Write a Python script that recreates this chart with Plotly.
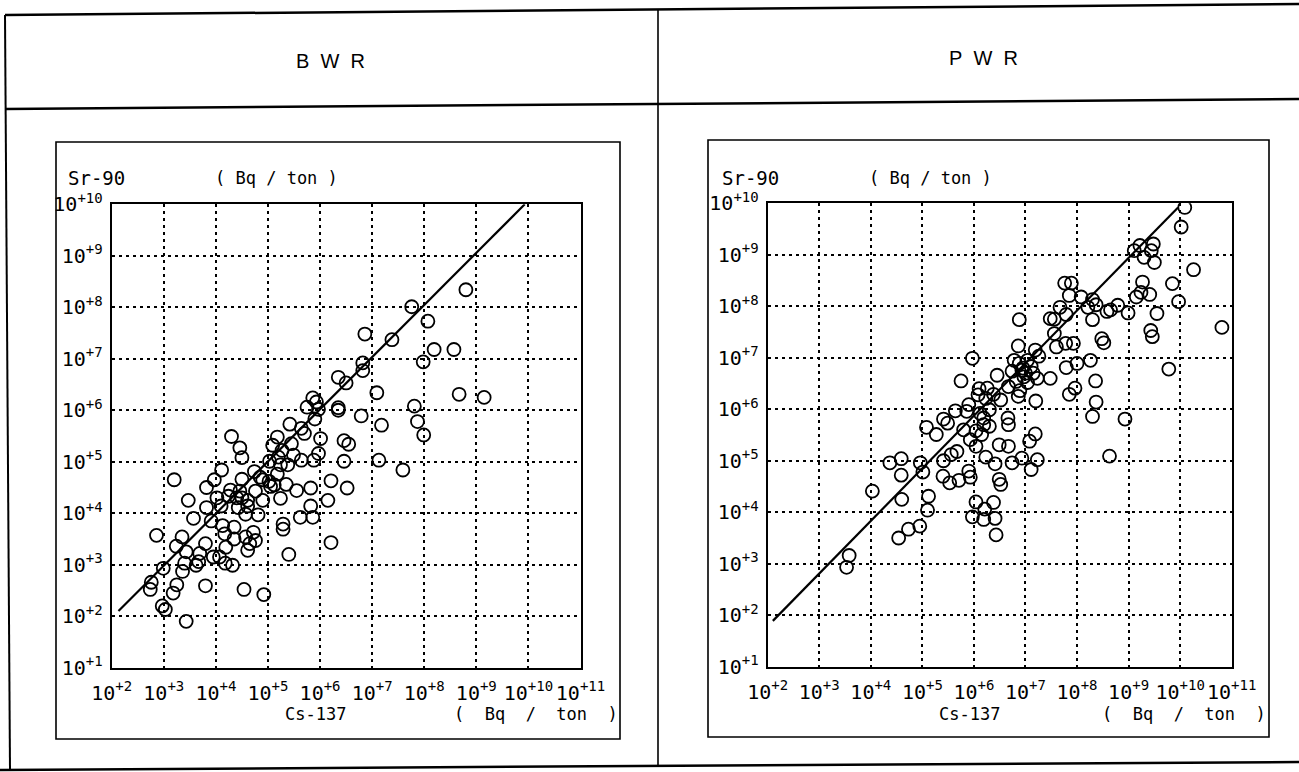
import numpy as np
import plotly.graph_objects as go

W, H = 1299, 772

# ---------------- data (log10 of Bq/ton) ----------------
panel_titles = ["B W R", "P W R"]
x_tick_exponents = list(range(2, 12))
y_tick_exponents = list(range(1, 11))

bwr_cs137_log = [8.80, 7.76, 8.07, 6.86, 7.38, 8.19, 8.57, 7.98, 6.82, 6.82, 6.35, 6.50, 7.09, 8.67,
                 9.15, 7.81, 6.35, 6.35, 5.93, 5.75, 5.97, 6.79, 5.90, 7.87, 7.18, 5.42, 5.64, 7.99,
                 4.30, 6.01, 5.18, 6.46, 6.55, 4.46, 4.50, 5.09, 5.27, 5.49, 5.64, 5.97, 5.88, 6.46,
                 7.13, 7.59, 5.24, 5.03, 4.11, 3.20, 3.97, 3.82, 4.50, 4.74, 5.02, 5.35, 5.55, 5.82,
                 6.21, 6.52, 5.18, 5.05, 3.47, 4.02, 4.24, 4.50, 4.61, 4.90, 5.24, 6.15, 3.82, 4.10,
                 4.61, 5.82, 3.57, 4.81, 4.57, 5.62, 5.86, 5.29, 5.29, 3.91, 4.13, 4.35, 2.86, 3.35,
                 3.24, 4.17, 4.35, 4.57, 4.72, 4.76, 4.65, 3.80, 4.19, 4.61, 6.21, 3.43, 3.69, 3.95,
                 4.18, 5.40, 3.40, 3.62, 2.99, 3.36, 2.76, 2.74, 3.25, 3.80, 3.18, 4.54, 4.92, 2.97,
                 3.03, 3.43, 3.67, 4.32, 4.07, 5.20, 5.86, 5.38, 4.90, 4.46, 4.43, 4.76, 5.12, 4.40,
                 4.28, 5.45, 5.70, 4.85]
bwr_sr90_log = [8.34, 8.01, 7.73, 7.48, 7.37, 7.18, 7.18, 6.94, 6.92, 6.77, 6.64, 6.53, 6.34, 6.31,
                6.25, 6.08, 6.05, 6.00, 6.16, 6.06, 6.02, 5.89, 5.83, 5.78, 5.71, 5.73, 5.65, 5.52,
                5.49, 5.45, 5.48, 5.41, 5.34, 5.27, 5.08, 5.32, 5.22, 5.13, 5.03, 5.16, 5.03, 5.01,
                5.03, 4.84, 4.94, 5.01, 4.84, 4.65, 4.65, 4.50, 4.66, 4.81, 4.62, 4.56, 4.44, 4.49,
                4.63, 4.49, 4.76, 4.52, 4.25, 4.30, 4.33, 4.30, 4.25, 4.25, 4.29, 4.25, 4.11, 4.14,
                4.14, 4.14, 3.90, 3.97, 3.98, 3.92, 3.92, 3.79, 3.69, 3.85, 3.76, 3.73, 3.57, 3.54,
                3.36, 3.60, 3.50, 3.54, 3.63, 3.47, 3.41, 3.41, 3.34, 3.28, 3.43, 3.25, 3.22, 3.15,
                3.03, 3.20, 3.03, 2.99, 2.93, 2.87, 2.66, 2.52, 2.61, 2.59, 2.45, 2.52, 2.42, 2.20,
                2.13, 1.90, 3.06, 2.99, 3.15, 5.09, 6.24, 4.94, 4.65, 4.43, 4.11, 4.43, 4.55, 4.30,
                4.45, 5.35, 5.55, 4.70]

pwr_cs137_log = [10.09, 10.02, 10.26, 10.81, 9.11, 9.22, 9.30, 9.48, 9.50, 9.44, 9.85, 9.97, 9.27,
                 9.24, 9.41, 9.15, 9.55, 9.43, 9.46, 9.78, 8.99, 8.79, 8.58, 8.65, 8.37, 8.30, 8.30,
                 8.21, 8.08, 7.85, 7.76, 7.89, 7.67, 7.79, 7.48, 7.56, 6.88, 7.56, 7.78, 7.93, 7.60,
                 8.48, 8.52, 8.26, 8.00, 7.79, 8.36, 7.96, 7.85, 8.37, 8.30, 8.93, 8.63, 6.86, 7.19,
                 7.26, 7.04, 6.88, 7.11, 6.93, 7.15, 6.97, 7.23, 6.74, 6.82, 7.04, 7.48, 6.67, 6.89,
                 6.86, 7.20, 5.97, 5.75, 6.45, 6.26, 6.38, 6.52, 6.23, 6.08, 5.90, 5.86, 5.64, 6.12,
                 6.30, 6.19, 6.19, 6.30, 6.66, 6.67, 5.41, 5.49, 5.08, 5.27, 6.04, 6.15, 7.19, 7.08,
                 5.93, 6.04, 6.49, 6.67, 5.67, 5.56, 5.41, 6.23, 6.41, 6.74, 6.93, 7.23, 7.11, 4.37,
                 4.59, 4.96, 5.01, 4.59, 5.40, 5.53, 5.71, 5.90, 5.93, 6.49, 6.52, 4.03, 4.60, 5.12,
                 5.10, 6.04, 6.38, 6.21, 5.97, 6.19, 6.41, 4.95, 4.73, 4.54, 6.43, 3.58, 3.53, 6.95,
                 7.00, 6.78, 6.10, 5.80]
pwr_sr90_log = [9.92, 9.54, 8.71, 7.59, 9.08, 9.18, 8.95, 9.21, 8.85, 9.08, 8.44, 8.09, 8.47, 8.27,
                8.23, 8.18, 7.86, 7.53, 7.41, 6.78, 7.87, 8.02, 7.90, 7.93, 8.03, 8.13, 7.74, 7.98,
                8.18, 8.21, 8.45, 8.45, 7.98, 7.84, 7.76, 7.75, 7.74, 7.47, 7.28, 7.28, 7.21, 7.37,
                7.29, 6.95, 6.89, 6.81, 6.55, 6.41, 6.29, 6.14, 5.86, 5.81, 5.09, 7.23, 7.15, 7.03,
                6.95, 6.89, 6.83, 6.76, 6.70, 6.63, 6.60, 6.74, 6.54, 6.52, 6.60, 6.44, 6.36, 6.25,
                6.16, 6.99, 6.55, 6.66, 6.41, 6.29, 6.18, 6.21, 6.28, 6.09, 5.96, 5.97, 5.92, 5.99,
                5.83, 5.70, 5.67, 5.83, 5.70, 5.81, 5.73, 5.65, 5.51, 5.58, 5.51, 5.52, 5.38, 5.41,
                5.28, 5.31, 5.28, 5.18, 5.12, 5.00, 5.07, 4.94, 4.96, 5.05, 5.02, 4.83, 4.96, 5.04,
                4.96, 4.78, 4.72, 4.70, 4.57, 4.62, 4.80, 4.68, 4.64, 4.54, 4.41, 4.25, 4.31, 4.04,
                4.20, 4.19, 4.06, 3.91, 3.86, 3.88, 3.73, 3.67, 3.50, 3.56, 3.16, 2.93, 6.80, 6.70,
                6.95, 6.40, 5.60]

# hand-drawn reference lines (end points, log10)
bwr_line_cs137_log = [2.13, 9.93]
bwr_line_sr90_log = [2.10, 10.00]
pwr_line_cs137_log = [2.10, 9.96]
pwr_line_sr90_log = [1.89, 9.92]

# ---------------- figure ----------------
MONO = "DejaVu Sans Mono"
SANS = "Liberation Sans"


def px(x, y):
    return x / W, 1 - y / H


fig = go.Figure()

panels = [
    (bwr_cs137_log, bwr_sr90_log, bwr_line_cs137_log, bwr_line_sr90_log, "x", "y"),
    (pwr_cs137_log, pwr_sr90_log, pwr_line_cs137_log, pwr_line_sr90_log, "x2", "y2"),
]
for cx, sy, lx, ly, xa, ya in panels:
    fig.add_trace(go.Scatter(
        x=np.power(10.0, lx), y=np.power(10.0, ly), mode="lines",
        line=dict(color="black", width=2.2), xaxis=xa, yaxis=ya, showlegend=False))
    fig.add_trace(go.Scatter(
        x=np.power(10.0, cx), y=np.power(10.0, sy), mode="markers",
        marker=dict(symbol="circle-open", size=13, color="black", line=dict(width=1.8, color="black")),
        xaxis=xa, yaxis=ya, showlegend=False, hoverinfo="x+y"))

xticks = [10.0 ** e for e in x_tick_exponents]
xtext = ["10<sup>+%d</sup>" % e for e in x_tick_exponents]
yticks = [10.0 ** e for e in y_tick_exponents]
ytext = ["10<sup>+%d</sup>" % e for e in y_tick_exponents]

common = dict(type="log", showgrid=True, gridcolor="black", griddash="3px,4px", gridwidth=1.6,
              showline=True, linecolor="black", linewidth=2, mirror=True, ticks="",
              zeroline=False, automargin=False,
              tickfont=dict(family=MONO, size=20, color="black"))

lx0, ly0 = px(111.7, 667.7)
lx1, ly1 = px(580.5, 204.3)
rx0, ry0 = px(767.7, 666.7)
rx1, ry1 = px(1231.7, 203.3)

fig.update_layout(
    width=W, height=H, autosize=False, margin=dict(l=0, r=0, t=0, b=0, pad=0),
    paper_bgcolor="white", plot_bgcolor="white", showlegend=False,
    xaxis=dict(common, domain=[lx0, lx1], range=[2, 11], tickvals=xticks, ticktext=xtext,
               anchor="y", ticklabelstandoff=6),
    yaxis=dict(common, domain=[ly0, ly1], range=[1, 10], tickvals=yticks, ticktext=ytext,
               anchor="x", ticklabelstandoff=3),
    xaxis2=dict(common, domain=[rx0, rx1], range=[2, 11], tickvals=xticks, ticktext=xtext,
                anchor="y2", ticklabelstandoff=6),
    yaxis2=dict(common, domain=[ry0, ry1], range=[1, 10], tickvals=yticks, ticktext=ytext,
                anchor="x2", ticklabelstandoff=3),
)

# frame lines (scanned sheet, slightly rotated)
shapes = []


def seg(x0, y0, x1, y1, w=2):
    a0, b0 = px(x0, y0)
    a1, b1 = px(x1, y1)
    shapes.append(dict(type="line", xref="paper", yref="paper", x0=a0, y0=b0, x1=a1, y1=b1,
                       line=dict(color="black", width=w)))


seg(5, 15, 1299, 4, 2.5)        # top
seg(5, 109, 1299, 99, 2.5)      # header separator
seg(5, 15, 10, 770, 2)          # left border
seg(658, 10, 658, 766, 1.6)     # panel divider
seg(0, 770, 1299, 762, 2.5)     # bottom
# inner boxes
for (x0, y0, x1, y1) in [(56, 142, 620, 739), (708, 140, 1269, 737)]:
    a0, b0 = px(x0, y0)
    a1, b1 = px(x1, y1)
    shapes.append(dict(type="rect", xref="paper", yref="paper", x0=a0, y0=b1, x1=a1, y1=b0,
                       line=dict(color="black", width=1.6)))
fig.update_layout(shapes=shapes)

ann = []


def text(x, y, s, size=19, family=MONO, xanchor="left"):
    a, b = px(x, y)
    ann.append(dict(x=a, y=b, xref="paper", yref="paper", text=s, showarrow=False,
                    xanchor=xanchor, yanchor="middle", font=dict(family=family, size=size, color="black")))


NB = "\u00a0"
text(330, 61, panel_titles[0].replace(" ", NB * 2), size=20, family=SANS, xanchor="center")
text(983, 58, panel_titles[1].replace(" ", NB * 2), size=20, family=SANS, xanchor="center")

for off, boff in ((0, 0), (654, 648)):
    text(66 + off, 178, "Sr-90", size=19)
    text(213 + off, 178, "(" + NB + "Bq" + NB + "/" + NB + "ton" + NB + ")", size=17)
    text(283 + off, 714, "Cs-137", size=17)
    text(452 + boff, 714, "(" + NB * 2 + "Bq" + NB * 2 + "/" + NB * 2 + "ton" + NB * 2 + ")", size=17)

fig.update_layout(annotations=ann)

fig.write_html("out.html", config={"displayModeBar": False},
               post_script="document.body.style.margin='0';document.body.style.padding='0';")
